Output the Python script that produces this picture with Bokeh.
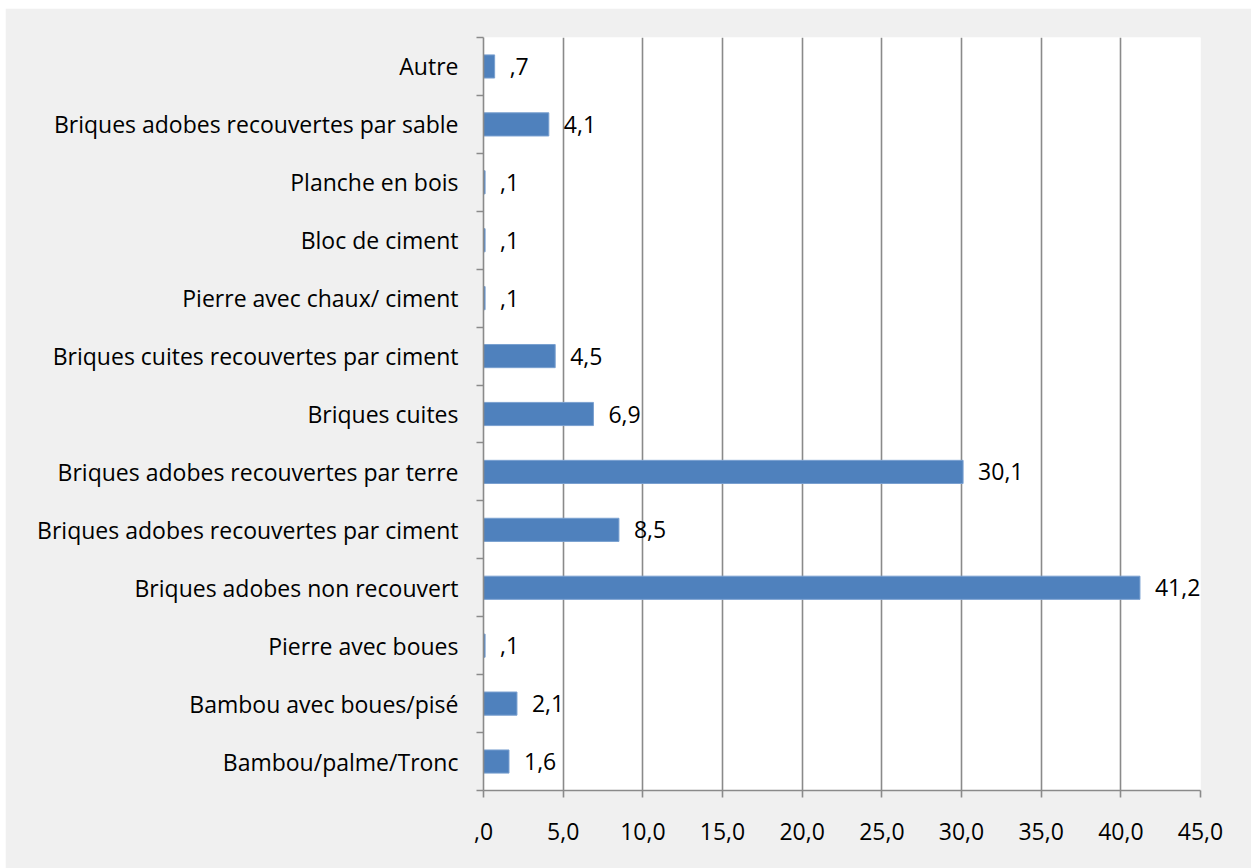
from bokeh.plotting import figure
from bokeh.models import FixedTicker, ColumnDataSource
from bokeh.core.properties import value
from bokeh.embed import file_html
from bokeh.resources import INLINE

# Wall material categories, bottom to top, with their share (%)
categories = [
    "Bambou/palme/Tronc",
    "Bambou avec boues/pisé",
    "Pierre avec boues",
    "Briques adobes non recouvert",
    "Briques adobes recouvertes par ciment",
    "Briques adobes recouvertes par terre",
    "Briques cuites",
    "Briques cuites recouvertes par ciment",
    "Pierre avec chaux/ ciment",
    "Bloc de ciment",
    "Planche en bois",
    "Briques adobes recouvertes par sable",
    "Autre",
]
values = [1.6, 2.1, 0.1, 41.2, 8.5, 30.1, 6.9, 4.5, 0.1, 0.1, 0.1, 4.1, 0.7]
x_ticks = [0, 5, 10, 15, 20, 25, 30, 35, 40, 45]

FONT = "Open Sans"
FONT_SIZE = "23px"
GREY = "#8a8a8a"
LINE_W = 1.6


def fr_number(v):
    # French decimal comma; zero integer part omitted (",7")
    s = f"{v:.1f}".replace(".", ",")
    if s.startswith("0,"):
        s = s[1:]
    return s


centers = [i + 0.5 for i in range(len(categories))]
src = ColumnDataSource(dict(
    y=centers,
    v=values,
    lab=[fr_number(v) for v in values],
))

p = figure(
    width=1246, height=860, margin=(8, 0, 0, 5),
    x_range=(0, 45), y_range=(0, len(categories)),
    output_backend="svg", toolbar_location=None,
    min_border_left=478, min_border_right=51,
    min_border_top=29, min_border_bottom=78,
)
p.background_fill_color = "white"
p.border_fill_color = "#f0f0f0"
p.outline_line_color = None

p.hbar(y="y", right="v", left=0, height=0.4, source=src,
       fill_color="#4f81bd", line_color="#7aa0d0", line_width=1)

p.text(x="v", y="y", text="lab", source=src,
       x_offset=15, text_align="left", text_baseline="middle",
       text_font=value(FONT), text_font_size=FONT_SIZE, text_color="black")

# x axis: percentages with decimal comma
p.xaxis.ticker = FixedTicker(ticks=x_ticks)
p.xaxis.major_label_overrides = {t: fr_number(t) for t in x_ticks}
p.xaxis.axis_line_color = GREY
p.xaxis.axis_line_width = LINE_W
p.xaxis.major_tick_line_color = GREY
p.xaxis.major_tick_line_width = LINE_W
p.xaxis.major_tick_out = 7
p.xaxis.major_tick_in = 0
p.xaxis.minor_tick_line_color = None
p.xaxis.major_label_standoff = 25
p.xaxis.major_label_text_font = FONT
p.xaxis.major_label_text_font_size = FONT_SIZE
p.xaxis.major_label_text_color = "black"

# y axis: labels at band centres, tick marks on band boundaries
p.yaxis.ticker = FixedTicker(ticks=centers,
                             minor_ticks=list(range(len(categories) + 1)))
p.yaxis.major_label_overrides = {c: n for c, n in zip(centers, categories)}
p.yaxis.axis_line_color = GREY
p.yaxis.axis_line_width = LINE_W
p.yaxis.major_tick_line_color = None
p.yaxis.minor_tick_line_color = GREY
p.yaxis.minor_tick_line_width = LINE_W
p.yaxis.minor_tick_out = 7
p.yaxis.minor_tick_in = 0
p.yaxis.major_label_standoff = 18
p.yaxis.major_label_text_font = FONT
p.yaxis.major_label_text_font_size = FONT_SIZE
p.yaxis.major_label_text_color = "black"

p.xgrid.ticker = FixedTicker(ticks=x_ticks)
p.xgrid.grid_line_color = GREY
p.xgrid.grid_line_width = LINE_W
p.ygrid.grid_line_color = None

open("out.html", "w").write(file_html(p, INLINE))
